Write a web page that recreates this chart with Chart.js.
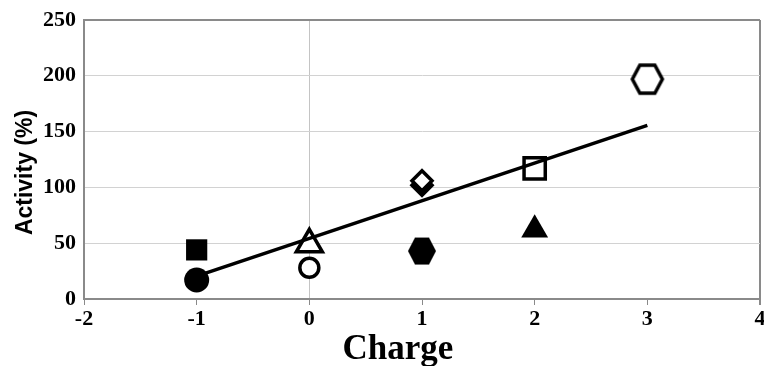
<!DOCTYPE html>
<html>
<head>
<meta charset="utf-8">
<script src="https://cdn.jsdelivr.net/npm/chart.js@4.4.1/dist/chart.umd.min.js"></script>
<style>
  html, body { margin: 0; padding: 0; background: #fff; }
  #wrap { width: 764px; height: 366px; }
</style>
</head>
<body>
<div id="wrap"><canvas id="chart"></canvas></div>
<script>
// measured points, one per marker
var charge = [-1, -1, 0, 0, 1, 1, 1, 2, 2, 3];
var activity = [44, 17, 49, 28, 106, 102, 43, 117, 62, 197];
// fitted trend line end points
var fitCharge = [-1, 3];
var fitActivity = [20.5, 155.5];
var xTicks = [-2, -1, 0, 1, 2, 3, 4];
var yTicks = [0, 50, 100, 150, 200, 250];

function hexagon(a, b, fill, lw) {
  var c = document.createElement('canvas');
  c.width = Math.ceil(2 * a + lw + 2);
  c.height = Math.ceil(2 * b + lw + 2);
  var g = c.getContext('2d');
  var cx = c.width / 2, cy = c.height / 2;
  g.beginPath();
  g.moveTo(cx - a, cy);
  g.lineTo(cx - a / 2, cy - b);
  g.lineTo(cx + a / 2, cy - b);
  g.lineTo(cx + a, cy);
  g.lineTo(cx + a / 2, cy + b);
  g.lineTo(cx - a / 2, cy + b);
  g.closePath();
  g.fillStyle = fill ? '#000' : '#fff';
  g.fill();
  if (!fill) {
    g.lineWidth = lw;
    g.strokeStyle = '#000';
    g.stroke();
  }
  return c;
}

// marker look, same order as the data
var looks = [
  { style: 'rect', r: 15, fill: true },
  { style: 'circle', r: 12.5, fill: true },
  { style: 'triangle', r: 15, fill: false },
  { style: 'circle', r: 9.5, fill: false },
  { style: 'rectRot', r: 10, fill: false },
  { style: 'rectRot', r: 12.5, fill: true },
  { style: hexagon(14, 13.5, true, 0), r: 14, fill: true },
  { style: 'rect', r: 15, fill: false },
  { style: 'triangle', r: 15.5, fill: true },
  { style: hexagon(15, 14, false, 3.5), r: 16, fill: false }
];

var datasets = [{
  type: 'line',
  data: fitCharge.map(function (x, i) { return { x: x, y: fitActivity[i] }; }),
  borderColor: '#000',
  borderWidth: 3.5,
  pointRadius: 0,
  order: 0
}];
charge.forEach(function (x, i) {
  var lk = looks[i];
  datasets.push({
    type: 'scatter',
    data: [{ x: x, y: activity[i] }],
    pointStyle: lk.style,
    pointRadius: lk.r,
    backgroundColor: lk.fill ? '#000' : '#fff',
    borderColor: '#000',
    borderWidth: lk.fill ? 0 : 3.5,
    order: 1
  });
});

var titles = {
  id: 'titles',
  afterDraw: function (chart) {
    var c = chart.ctx, xs = chart.scales.x, ys = chart.scales.y;
    c.save();
    c.fillStyle = '#000';
    c.textAlign = 'center';
    c.textBaseline = 'alphabetic';
    c.font = 'bold 35px "Liberation Serif"';
    c.fillText('Charge', (xs.left + xs.right) / 2 - 24, 359);
    c.translate(32, (ys.top + ys.bottom) / 2 + 13);
    c.rotate(-Math.PI / 2);
    c.font = 'bold 23px "Liberation Sans"';
    c.fillText('Activity (%)', 0, 0);
    c.restore();
  }
};

var serif = { family: '"Liberation Serif"', size: 22, weight: 'bold' };

new Chart(document.getElementById('chart'), {
  type: 'scatter',
  data: { datasets: datasets },
  plugins: [titles],
  options: {
    responsive: true,
    maintainAspectRatio: false,
    animation: false,
    layout: { autoPadding: false, padding: { top: 20, right: 4, left: 0, bottom: 0 } },
    plugins: { legend: { display: false }, tooltip: { enabled: false } },
    scales: {
      x: {
        type: 'linear', min: -2, max: 4,
        afterBuildTicks: function (s) { s.ticks = xTicks.map(function (v) { return { value: v }; }); },
        afterFit: function (s) { s.height = 67; s.paddingRight = 0; },
        ticks: { color: '#000', font: serif, padding: 1, maxRotation: 0 },
        grid: {
          color: function (ctx) {
            if (ctx.tick.value === 0) return '#c4c4c4';
            if (ctx.tick.value === 4) return '#8a8a8a';
            return 'rgba(0,0,0,0)';
          },
          lineWidth: function (ctx) { return ctx.tick.value === 4 ? 2 : 1; },
          tickColor: '#8a8a8a',
          tickLength: 6,
          drawTicks: true
        },
        border: { color: '#8a8a8a', width: 2 }
      },
      y: {
        type: 'linear', min: 0, max: 250,
        afterBuildTicks: function (s) { s.ticks = yTicks.map(function (v) { return { value: v }; }); },
        afterFit: function (s) { s.width = 84; s.paddingTop = 0; },
        ticks: { color: '#000', font: serif, padding: 8 },
        grid: {
          color: function (ctx) { return ctx.tick.value === 250 ? '#8a8a8a' : '#d2d2d2'; },
          lineWidth: function (ctx) { return ctx.tick.value === 250 ? 2 : 1; },
          drawTicks: false
        },
        border: { color: '#8a8a8a', width: 2 }
      }
    }
  }
});
</script>
</body>
</html>
